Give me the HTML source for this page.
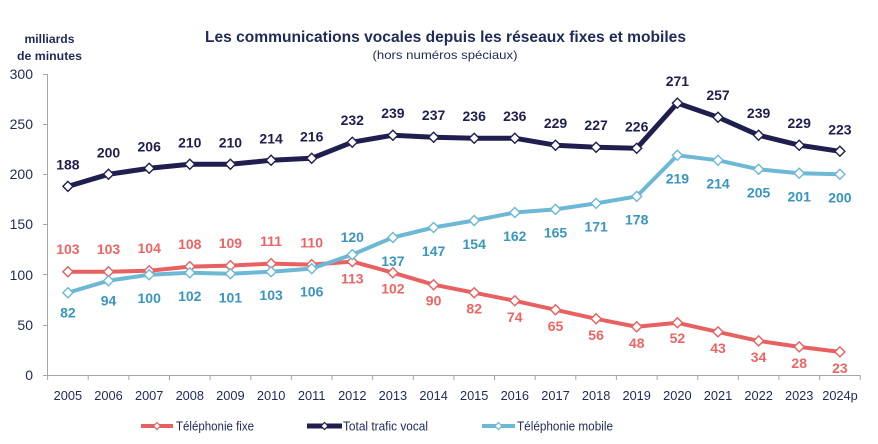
<!DOCTYPE html>
<html><head><meta charset="utf-8"><style>
html,body{margin:0;padding:0;background:#fff;}
svg{display:block;font-family:"Liberation Sans",sans-serif;}
</style></head><body>
<svg width="878" height="444" viewBox="0 0 878 444" xmlns="http://www.w3.org/2000/svg">
<defs>
<marker id="mn" markerUnits="userSpaceOnUse" markerWidth="14" markerHeight="14" refX="7" refY="7" viewBox="0 0 14 14"><path d="M7,2 L12,7 L7,12 L2,7 Z" fill="#fff" stroke="#1f1f4f" stroke-width="1.4"/></marker>
<marker id="mr" markerUnits="userSpaceOnUse" markerWidth="14" markerHeight="14" refX="7" refY="7" viewBox="0 0 14 14"><path d="M7,2 L12,7 L7,12 L2,7 Z" fill="#fff" stroke="#e8605f" stroke-width="1.4"/></marker>
<marker id="mb" markerUnits="userSpaceOnUse" markerWidth="14" markerHeight="14" refX="7" refY="7" viewBox="0 0 14 14"><path d="M7,2 L12,7 L7,12 L2,7 Z" fill="#fff" stroke="#6db8d4" stroke-width="1.4"/></marker>
</defs>

<!-- Titles -->
<text x="445.5" y="42" font-size="16" font-weight="bold" fill="#1f2a5a" text-anchor="middle" textLength="481" lengthAdjust="spacingAndGlyphs">Les communications vocales depuis les réseaux fixes et mobiles</text>
<text x="445" y="59" font-size="12" fill="#1f2a5a" text-anchor="middle" textLength="145" lengthAdjust="spacingAndGlyphs">(hors numéros spéciaux)</text>
<text x="49.5" y="43" font-size="12" font-weight="bold" fill="#1f2a5a" text-anchor="middle" textLength="50" lengthAdjust="spacingAndGlyphs">milliards</text>
<text x="49.5" y="60" font-size="12" font-weight="bold" fill="#1f2a5a" text-anchor="middle" textLength="65" lengthAdjust="spacingAndGlyphs">de minutes</text>

<!-- Axes -->
<g stroke="#a6a6a6" stroke-width="1" fill="none">
<line x1="47.5" y1="74" x2="47.5" y2="375.5"/>
<line x1="47" y1="375.5" x2="860.5" y2="375.5"/>
<path d="M43,74.5H47.5M43,124.5H47.5M43,174.5H47.5M43,224.5H47.5M43,274.5H47.5M43,325.5H47.5M43,375.5H47.5"/>
<path d="M47.6,375V380M88.2,375V380M128.9,375V380M169.5,375V380M210.1,375V380M250.8,375V380M291.4,375V380M332,375V380M372.6,375V380M413.3,375V380M453.9,375V380M494.5,375V380M535.2,375V380M575.8,375V380M616.4,375V380M657.1,375V380M697.7,375V380M738.3,375V380M778.9,375V380M819.6,375V380M860.2,375V380"/>
</g>
<g font-size="14" fill="#1f2a5a" text-anchor="end">
<text x="33" y="79">300</text>
<text x="33" y="129">250</text>
<text x="33" y="179">200</text>
<text x="33" y="229">150</text>
<text x="33" y="280">100</text>
<text x="33" y="330">50</text>
<text x="33" y="380">0</text>
</g>
<g font-size="12.8" fill="#1f2a5a" text-anchor="middle">
<text x="67.9" y="400">2005</text>
<text x="108.5" y="400">2006</text>
<text x="149.2" y="400">2007</text>
<text x="189.8" y="400">2008</text>
<text x="230.4" y="400">2009</text>
<text x="271.1" y="400">2010</text>
<text x="311.7" y="400">2011</text>
<text x="352.3" y="400">2012</text>
<text x="392.9" y="400">2013</text>
<text x="433.6" y="400">2014</text>
<text x="474.2" y="400">2015</text>
<text x="514.8" y="400">2016</text>
<text x="555.5" y="400">2017</text>
<text x="596.1" y="400">2018</text>
<text x="636.7" y="400">2019</text>
<text x="677.4" y="400">2020</text>
<text x="718" y="400">2021</text>
<text x="758.6" y="400">2022</text>
<text x="799.2" y="400">2023</text>
<text x="840" y="400">2024p</text>
</g>

<!-- Series -->
<polyline fill="none" stroke="#e8605f" stroke-width="4" stroke-linejoin="round" marker-start="url(#mr)" marker-mid="url(#mr)" marker-end="url(#mr)"
points="67.9,271.7 108.5,271.7 149.2,270.7 189.8,266.6 230.4,265.6 271.1,263.6 311.7,264.6 352.3,261.6 392.9,272.7 433.6,284.7 474.2,292.7 514.8,300.8 555.5,309.8 596.1,318.8 636.7,326.8 677.4,322.8 718,331.9 758.6,340.9 799.2,346.9 839.9,351.9"/>
<polyline fill="none" stroke="#6db8d4" stroke-width="4" stroke-linejoin="round" marker-start="url(#mb)" marker-mid="url(#mb)" marker-end="url(#mb)"
points="67.9,292.7 108.5,280.7 149.2,274.7 189.8,272.7 230.4,273.7 271.1,271.7 311.7,268.6 352.3,254.6 392.9,237.5 433.6,227.5 474.2,220.5 514.8,212.5 555.5,209.4 596.1,203.4 636.7,196.4 677.4,155.3 718,160.3 758.6,169.3 799.2,173.3 839.9,174.3"/>
<polyline fill="none" stroke="#1f1f4f" stroke-width="5" stroke-linejoin="round" marker-start="url(#mn)" marker-mid="url(#mn)" marker-end="url(#mn)"
points="67.9,186.4 108.5,174.3 149.2,168.3 189.8,164.3 230.4,164.3 271.1,160.3 311.7,158.3 352.3,142.2 392.9,135.2 433.6,137.2 474.2,138.2 514.8,138.2 555.5,145.2 596.1,147.2 636.7,148.3 677.4,103.1 718,117.2 758.6,135.2 799.2,145.2 839.9,151.3"/>

<!-- Total labels -->
<g font-size="14" font-weight="bold" fill="#1f1f4f" text-anchor="middle">
<text x="67.9" y="169.4">188</text>
<text x="108.5" y="157.3">200</text>
<text x="149.2" y="151.3">206</text>
<text x="189.8" y="147.3">210</text>
<text x="230.4" y="147.3">210</text>
<text x="271.1" y="143.3">214</text>
<text x="311.7" y="141.3">216</text>
<text x="352.3" y="125.2">232</text>
<text x="392.9" y="118.2">239</text>
<text x="433.6" y="120.2">237</text>
<text x="474.2" y="121.2">236</text>
<text x="514.8" y="121.2">236</text>
<text x="555.5" y="128.2">229</text>
<text x="596.1" y="130.2">227</text>
<text x="636.7" y="131.3">226</text>
<text x="677.4" y="86.1">271</text>
<text x="718" y="100.2">257</text>
<text x="758.6" y="118.2">239</text>
<text x="799.2" y="128.2">229</text>
<text x="839.9" y="134.3">223</text>
</g>
<!-- Fixe labels -->
<g font-size="14" font-weight="bold" fill="#ec6564" text-anchor="middle">
<text x="67.9" y="254.2">103</text>
<text x="108.5" y="254.2">103</text>
<text x="149.2" y="253.2">104</text>
<text x="189.8" y="249.1">108</text>
<text x="230.4" y="248.1">109</text>
<text x="271.1" y="246.1">111</text>
<text x="311.7" y="247.6">110</text>
<text x="352.3" y="283.6">113</text>
<text x="392.9" y="293.7">102</text>
<text x="433.6" y="305.7">90</text>
<text x="474.2" y="313.7">82</text>
<text x="514.8" y="321.8">74</text>
<text x="555.5" y="330.8">65</text>
<text x="596.1" y="339.8">56</text>
<text x="636.7" y="347.8">48</text>
<text x="677.4" y="342.8">52</text>
<text x="718" y="352.9">43</text>
<text x="758.6" y="361.9">34</text>
<text x="799.2" y="367.9">28</text>
<text x="839.9" y="372.9">23</text>
</g>
<!-- Mobile labels -->
<g font-size="14" font-weight="bold" fill="#3a95c0" text-anchor="middle">
<text x="67.9" y="317.7">82</text>
<text x="108.5" y="305.7">94</text>
<text x="149.2" y="303.2">100</text>
<text x="189.8" y="301.2">102</text>
<text x="230.4" y="302.7">101</text>
<text x="271.1" y="300.2">103</text>
<text x="311.7" y="296.6">106</text>
<text x="352.3" y="242">120</text>
<text x="392.9" y="266">137</text>
<text x="433.6" y="256">147</text>
<text x="474.2" y="249">154</text>
<text x="514.8" y="241">162</text>
<text x="555.5" y="237.4">165</text>
<text x="596.1" y="231.4">171</text>
<text x="636.7" y="224.4">178</text>
<text x="677.4" y="183.3">219</text>
<text x="718" y="188.3">214</text>
<text x="758.6" y="197.3">205</text>
<text x="799.2" y="201.3">201</text>
<text x="839.9" y="202.3">200</text>
</g>

<!-- Legend -->
<line x1="141" y1="426" x2="173" y2="426" stroke="#e8605f" stroke-width="4"/>
<path d="M157,422.5 L160.5,426 L157,429.5 L153.5,426 Z" fill="#fff" stroke="#e8605f" stroke-width="1.2"/>
<line x1="307" y1="426" x2="342" y2="426" stroke="#1f1f4f" stroke-width="5"/>
<path d="M324.5,422.5 L328,426 L324.5,429.5 L321,426 Z" fill="#fff" stroke="#1f1f4f" stroke-width="1.2"/>
<line x1="482" y1="426" x2="515" y2="426" stroke="#6db8d4" stroke-width="4"/>
<path d="M498.5,422.5 L502,426 L498.5,429.5 L495,426 Z" fill="#fff" stroke="#6db8d4" stroke-width="1.2"/>
<g font-size="12.5" fill="#1f2a5a">
<text x="176" y="430.5" textLength="78" lengthAdjust="spacingAndGlyphs">Téléphonie fixe</text>
<text x="343" y="430.5" textLength="85" lengthAdjust="spacingAndGlyphs">Total trafic vocal</text>
<text x="517" y="430.5" textLength="96" lengthAdjust="spacingAndGlyphs">Téléphonie mobile</text>
</g>
</svg>
</body></html>
